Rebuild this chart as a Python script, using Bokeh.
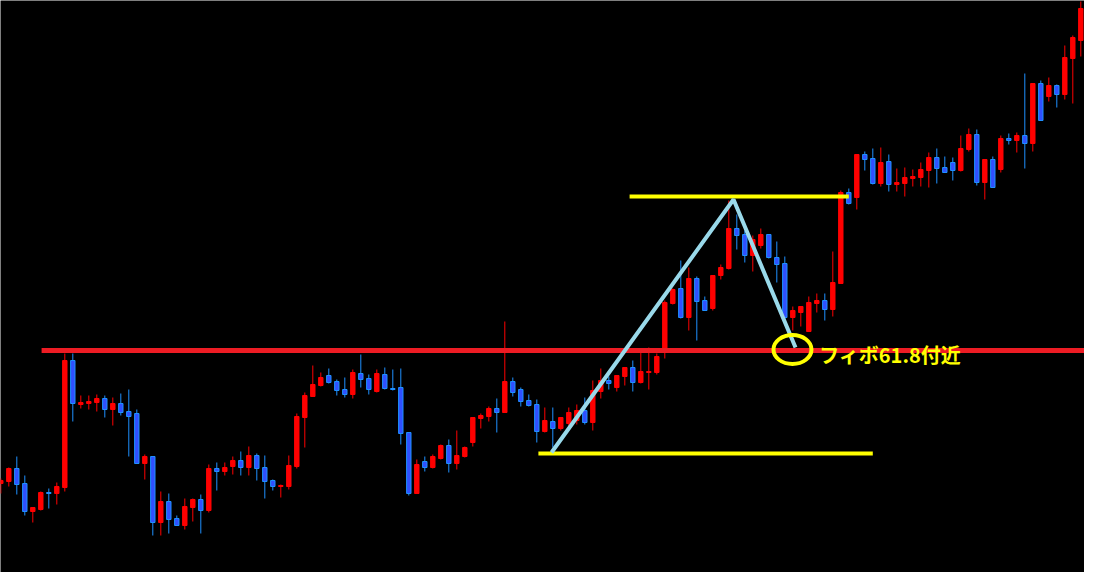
from bokeh.plotting import figure
from bokeh.models import Range1d, ColumnDataSource
from bokeh.embed import file_html
from bokeh.resources import INLINE
from bokeh.core.properties import value

# ---- candle data (price units) ----
opens = [117,119,132,117,89,91,108,107,113,240,
         196,197,198,202,191,197,189,187,137,144,
         78,99,82,75,93,101,90,132,129,134,
         140,133,145,133,120,114,114,134,183,204,
         215,225,219,211,206,227,222,209,226,212,
         213,168,107,139,133,142,155,137,144,158,
         182,184,192,188,219,211,200,196,169,179,
         172,177,180,190,178,209,220,213,224,233,
         218,228,228,251,297,312,283,322,300,292,
         325,332,372,366,345,355,366,343,337,283,
         288,269,297,300,291,317,408,403,446,442,
         417,439,416,417,422,423,430,443,433,438,
         430,451,466,418,441,431,462,460,465,457,
         517,504,515,506,542,560,591,590]
highs = [122,133,144,125,93,109,112,118,247,247,
         205,205,206,205,203,207,211,191,146,144,
         109,107,85,102,102,106,136,138,138,144,
         149,154,147,145,121,116,145,187,208,235,
         228,232,221,223,231,246,226,231,233,231,
         232,168,141,144,146,156,161,170,154,183,
         187,194,202,279,223,213,206,201,193,193,
         183,193,196,203,220,232,224,225,233,240,
         250,253,247,300,312,340,333,324,304,325,
         336,400,386,370,365,372,366,359,344,294,
         294,304,307,307,349,410,412,446,449,452,
         453,446,432,433,431,438,448,452,444,443,
         465,472,471,441,444,465,467,468,527,517,
         520,523,516,555,565,599,598,600]
lows = [107,114,106,85,78,90,92,96,109,179,
        192,191,189,183,175,185,144,137,121,65,
        65,67,75,71,79,67,88,110,125,126,
        125,125,120,102,110,103,111,132,153,204,
        214,217,205,203,202,213,206,208,211,210,
        156,105,107,129,132,141,128,131,143,154,
        172,179,168,188,204,194,194,158,168,153,
        170,172,176,176,170,202,211,209,215,209,
        217,211,226,242,296,282,270,260,290,290,
        321,331,351,338,329,352,342,318,280,270,
        274,269,288,280,284,317,396,391,430,416,
        414,409,409,404,414,414,413,417,428,420,
        429,449,415,401,413,428,456,448,432,449,
        480,499,493,501,497,544,587,569]
closes = [120,132,116,89,93,108,107,114,240,197,
          198,199,202,191,197,188,184,137,144,78,
          99,81,75,94,101,90,132,129,133,140,
          133,145,132,119,114,115,135,184,205,216,
          223,218,210,206,228,221,211,227,212,211,
          167,107,136,133,144,155,137,145,153,183,
          185,192,188,219,208,199,195,169,180,172,
          183,188,190,178,210,220,217,225,233,218,
          229,229,244,298,311,283,322,299,290,325,
          333,372,365,345,361,366,343,336,283,290,
          294,298,300,291,318,408,397,446,441,417,
          438,416,418,423,424,431,443,432,428,430,
          452,466,418,441,413,462,460,465,457,517,
          480,515,506,543,563,592,592,600]

# ---- annotation levels (price / bar index) ----
resistance_level = 250
resistance_span = (5.1, 136.2)
swing_high_level = 404
swing_high_span = (78.6, 106.0)
swing_low_level = 147
swing_low_span = (67.2, 109.0)
wave_x = [68.84, 91.59, 99.34]
wave_y = [148, 401, 253]
fib_x, fib_y = 98.96, 251
label_x, label_y = 102.3, 246
label_text = "フィボ61.8付近"

UP_FILL, UP_LINE = "#ff0000", "#ff0000"
DN_FILL, DN_LINE = "#3050ff", "#1e90ff"

n = len(opens)
idx = list(range(n))
up = [c >= o for o, c in zip(opens, closes)]
tops, bots = [], []
for o, c in zip(opens, closes):
    t, b = max(o, c), min(o, c)
    if t - b < 1:
        t = b + 1
    tops.append(t)
    bots.append(b)

src = ColumnDataSource(dict(
    x=idx, high=highs, low=lows, top=tops, bottom=bots,
    fill=[UP_FILL if u else DN_FILL for u in up],
    line=[UP_LINE if u else DN_LINE for u in up],
))

p = figure(width=1084, height=572, output_backend="svg", toolbar_location=None,
           x_range=Range1d(-0.0375, 135.4625), y_range=Range1d(28, 600),
           background_fill_color="#000000", border_fill_color="#000000",
           min_border=0, outline_line_color=None)
p.xaxis.visible = False
p.yaxis.visible = False
p.grid.visible = False

p.segment(x0="x", y0="low", x1="x", y1="high", source=src, line_color="line", line_width=1)
p.vbar(x="x", width=0.55, top="top", bottom="bottom", source=src,
       fill_color="fill", line_color="line", line_width=1)

# resistance line
p.segment(x0=[resistance_span[0]], y0=[resistance_level], x1=[resistance_span[1]], y1=[resistance_level],
          line_color="#ed1c24", line_width=5)
# swing high / low lines
p.segment(x0=[swing_high_span[0], swing_low_span[0]], y0=[swing_high_level, swing_low_level],
          x1=[swing_high_span[1], swing_low_span[1]], y1=[swing_high_level, swing_low_level],
          line_color="#ffff00", line_width=4)
# wave lines
p.line(x=wave_x, y=wave_y, line_color="#99d9ea", line_width=4)
# fib circle
p.ellipse(x=[fib_x], y=[fib_y], width=4.75, height=29, fill_color=None,
          line_color="#ffff00", line_width=4)
# label
p.text(x=[label_x], y=[label_y], text=[label_text], text_color="#ffff00",
       text_font=value("Noto Sans CJK JP"), text_font_style="bold",
       text_font_size="20px", text_baseline="middle", text_align="left")

html = file_html(p, INLINE, title="chart")
html = html.replace("<body>", '<body style="background:#000000;">', 1)
open("out.html", "w").write(html)
